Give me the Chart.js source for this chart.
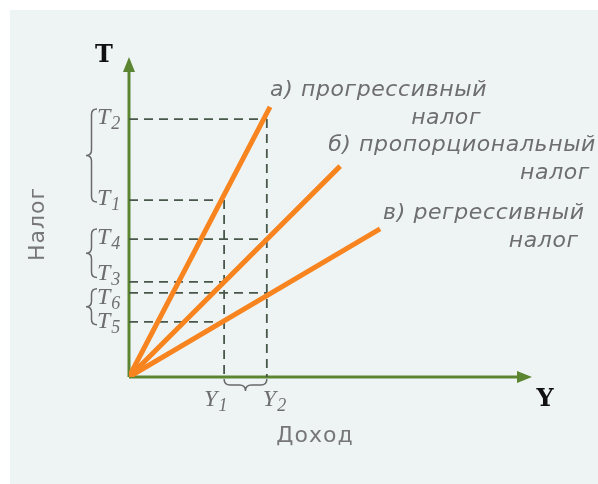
<!DOCTYPE html>
<html>
<head>
<meta charset="utf-8">
<script src="https://cdn.jsdelivr.net/npm/chart.js@4.4.1/dist/chart.umd.min.js"></script>
<style>
  body { margin: 0; background: #fff; }
  #wrap { position: relative; width: 598px; height: 484px; }
</style>
</head>
<body>
<div id="wrap"><canvas id="taxChart"></canvas></div>
<script>
// income marks on the horizontal axis
const incomeLabels = ['Y', 'Y'];
const incomeSubs = ['1', '2'];
const incomeValues = [23.6, 34.2];

// tax marks on the vertical axis, each one read at an income mark
const taxLabels = ['T', 'T', 'T', 'T', 'T', 'T'];
const taxSubs = ['1', '2', '3', '4', '5', '6'];
const taxValues = [55.3, 80.6, 29.7, 43.1, 17.2, 26.3];
const taxAtIncome = [0, 1, 0, 1, 0, 1];

// the three tax lines (start and end)
const progressiveX = [0, 35.0];
const progressiveY = [0, 84.4];
const proportionalX = [0, 52.4];
const proportionalY = [0, 65.9];
const regressiveX = [0, 62.3];
const regressiveY = [0, 46.3];

const lineNames = [
    ['а) прогрессивный', 'налог'],
    ['б) пропорциональный', 'налог'],
    ['в) регрессивный', 'налог']
];

const ORANGE = '#f7841e';
const GREEN = '#5c8532';
const DASH = '#47574a';
const TEXT = '#6e6e6e';

function pts(xs, ys) {
    return xs.map((x, i) => ({ x: x, y: ys[i] }));
}

function taxLine(xs, ys) {
    return {
        data: pts(xs, ys),
        showLine: true,
        borderColor: ORANGE,
        borderWidth: 5,
        pointRadius: 0,
        order: 1
    };
}

function guide(data) {
    return {
        data: data,
        showLine: true,
        borderColor: DASH,
        borderWidth: 1.8,
        borderDash: [9, 6],
        pointRadius: 0,
        order: 2
    };
}

let datasets = [
    taxLine(progressiveX, progressiveY),
    taxLine(proportionalX, proportionalY),
    taxLine(regressiveX, regressiveY)
];

// dashed lines from the axis to each tax level
taxValues.forEach((t, i) => {
    datasets.push(guide([{ x: 0, y: t }, { x: incomeValues[taxAtIncome[i]], y: t }]));
});
incomeValues.forEach((v, k) => {
    let top = Math.max(...taxValues.filter((t, i) => taxAtIncome[i] === k));
    datasets.push(guide([{ x: v, y: top }, { x: v, y: 0 }]));
});

// curly bracket, tip pointing to the left or down
function brace(ctx, a, b, fixed, d, vertical) {
    let mid = (a + b) / 2;
    ctx.beginPath();
    if (vertical) {
        let x = fixed;
        ctx.moveTo(x, a);
        ctx.quadraticCurveTo(x - d / 2, a, x - d / 2, a + d / 2);
        ctx.lineTo(x - d / 2, mid - d / 2);
        ctx.quadraticCurveTo(x - d / 2, mid, x - d, mid);
        ctx.quadraticCurveTo(x - d / 2, mid, x - d / 2, mid + d / 2);
        ctx.lineTo(x - d / 2, b - d / 2);
        ctx.quadraticCurveTo(x - d / 2, b, x, b);
    } else {
        let y = fixed;
        ctx.moveTo(a, y);
        ctx.quadraticCurveTo(a, y + d / 2, a + d / 2, y + d / 2);
        ctx.lineTo(mid - d / 2, y + d / 2);
        ctx.quadraticCurveTo(mid, y + d / 2, mid, y + d);
        ctx.quadraticCurveTo(mid, y + d / 2, mid + d / 2, y + d / 2);
        ctx.lineTo(b - d / 2, y + d / 2);
        ctx.quadraticCurveTo(b, y + d / 2, b, y);
    }
    ctx.stroke();
}

// italic letter with subscript, x is the left edge, y the middle of the letter
function subLabel(ctx, main, sub, x, y) {
    ctx.textBaseline = 'alphabetic';
    ctx.font = 'italic 24px "Liberation Serif"';
    let w = ctx.measureText(main).width;
    ctx.fillText(main, x, y + 8);
    ctx.font = 'italic 18px "Liberation Serif"';
    ctx.fillText(sub, x + w + 1, y + 13);
}

const overlay = {
    id: 'overlay',
    beforeDraw(chart) {
        const ctx = chart.ctx;
        ctx.save();
        ctx.fillStyle = '#ffffff';
        ctx.fillRect(0, 0, chart.width, chart.height);
        ctx.fillStyle = '#eef4f4';
        ctx.fillRect(10, 10, chart.width - 10, chart.height - 10);
        ctx.restore();
    },
    beforeDatasetsDraw(chart) {
        const ctx = chart.ctx;
        const xs = chart.scales.x, ys = chart.scales.y;
        const x0 = xs.getPixelForValue(0), y0 = ys.getPixelForValue(0);
        const xEnd = xs.getPixelForValue(100), yEnd = ys.getPixelForValue(100);
        ctx.save();
        ctx.strokeStyle = GREEN;
        ctx.fillStyle = GREEN;
        ctx.lineWidth = 3;
        ctx.beginPath();
        ctx.moveTo(x0, y0);
        ctx.lineTo(x0, yEnd + 12);
        ctx.moveTo(x0, y0);
        ctx.lineTo(xEnd - 12, y0);
        ctx.stroke();
        ctx.beginPath();
        ctx.moveTo(x0, yEnd);
        ctx.lineTo(x0 - 6, yEnd + 15);
        ctx.lineTo(x0 + 6, yEnd + 15);
        ctx.closePath();
        ctx.fill();
        ctx.beginPath();
        ctx.moveTo(xEnd, y0);
        ctx.lineTo(xEnd - 15, y0 - 6);
        ctx.lineTo(xEnd - 15, y0 + 6);
        ctx.closePath();
        ctx.fill();
        ctx.restore();
    },
    afterDatasetsDraw(chart) {
        const ctx = chart.ctx;
        const xs = chart.scales.x, ys = chart.scales.y;
        const y0 = ys.getPixelForValue(0);
        ctx.save();

        // tax marks: keep the labels apart where two levels are close
        let marks = taxValues.map((t, i) => ({ i: i, c: ys.getPixelForValue(t) - 3 }));
        marks.sort((a, b) => a.c - b.c);
        for (let n = 1; n < marks.length; n++) {
            let gap = marks[n].c - marks[n - 1].c;
            if (gap < 24) {
                marks[n - 1].c -= (24 - gap) / 2;
                marks[n].c += (24 - gap) / 2;
            }
        }
        let centers = [];
        marks.forEach(m => { centers[m.i] = m.c; });

        ctx.fillStyle = TEXT;
        ctx.strokeStyle = '#6a6a6a';
        ctx.lineWidth = 1.5;
        taxValues.forEach((t, i) => {
            subLabel(ctx, taxLabels[i], taxSubs[i], 97, centers[i]);
        });
        for (let i = 0; i < taxValues.length; i += 2) {
            brace(ctx, centers[i + 1] - 7, centers[i] + 5, 97, 11, true);
        }

        // income marks and bracket under the axis
        incomeValues.forEach((v, k) => {
            let px = xs.getPixelForValue(v);
            let left = k === 0 ? px - 20 : px - 4;
            subLabel(ctx, incomeLabels[k], incomeSubs[k], left, 398);
        });
        brace(ctx, xs.getPixelForValue(incomeValues[0]), xs.getPixelForValue(incomeValues[1]), y0 + 2, 12, false);

        // names of the tax lines next to their ends
        const offs = [[0, -11], [-12, -15], [3, -10]];
        const ends = [
            [progressiveX[1], progressiveY[1]],
            [proportionalX[1], proportionalY[1]],
            [regressiveX[1], regressiveY[1]]
        ];
        ctx.fillStyle = TEXT;
        ctx.font = 'italic 22px "DejaVu Sans"';
        ctx.letterSpacing = '0.6px';
        lineNames.forEach((name, i) => {
            let ex = xs.getPixelForValue(ends[i][0]) + offs[i][0];
            let ey = ys.getPixelForValue(ends[i][1]) + offs[i][1];
            let w = ctx.measureText(name[0]).width;
            ctx.textAlign = 'left';
            ctx.fillText(name[0], ex, ey);
            ctx.textAlign = 'right';
            ctx.fillText(name[1], ex + w - 6, ey + 28);
        });

        // axis titles
        ctx.textAlign = 'center';
        ctx.textBaseline = 'middle';
        ctx.fillStyle = '#111111';
        ctx.letterSpacing = '0px';
        ctx.font = 'bold 24px "DejaVu Serif"';
        ctx.fillText('T', 104, 56);
        ctx.fillText('Y', 545, 400);

        ctx.fillStyle = '#777777';
        ctx.font = '22px "DejaVu Sans"';
        ctx.letterSpacing = '1px';
        ctx.fillText('Доход', 315, 436);
        ctx.translate(38, 224);
        ctx.rotate(-Math.PI / 2);
        ctx.fillText('Налог', 0, 0);
        ctx.restore();
    }
};

new Chart(document.getElementById('taxChart'), {
    type: 'scatter',
    data: { datasets: datasets },
    options: {
        responsive: true,
        maintainAspectRatio: false,
        animation: false,
        events: [],
        layout: { padding: { left: 129, right: 66, top: 57, bottom: 107 } },
        plugins: {
            legend: { display: false },
            tooltip: { enabled: false }
        },
        scales: {
            x: { type: 'linear', min: 0, max: 100, display: false },
            y: { type: 'linear', min: 0, max: 100, display: false }
        }
    },
    plugins: [overlay]
});
</script>
</body>
</html>
